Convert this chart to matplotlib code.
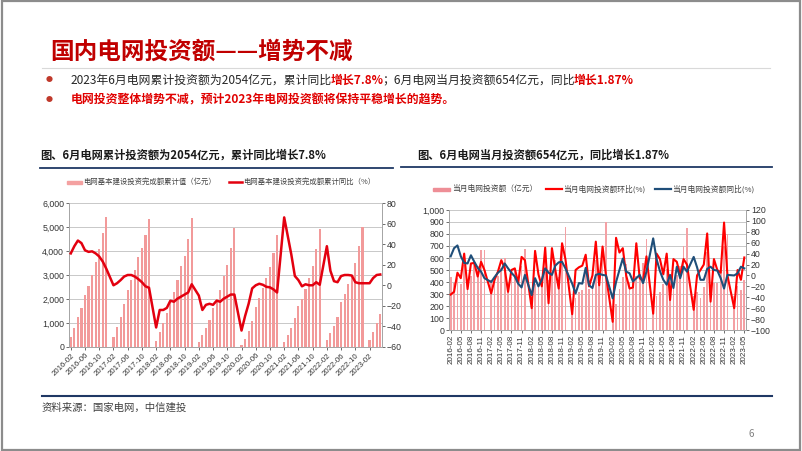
import numpy as np
import matplotlib
matplotlib.use("Agg")
import matplotlib.pyplot as plt
from matplotlib.patches import Rectangle, Ellipse
from matplotlib.lines import Line2D

plt.rcParams['font.family'] = ['Noto Sans CJK SC', 'DejaVu Sans']

W, H = 802, 451

# ---------------------------------------------------------
# data (None = January, no data)
# ---------------------------------------------------------
months = []
for yr in range(2016, 2024):
    for mo in range(1, 13):
        if (yr == 2016 and mo == 1) or (yr == 2023 and mo > 5):
            continue
        months.append(f"{yr}-{mo:02d}")

# cumulative investment (亿元)
cum_value = [
    420, 810, 1240, 1620, 2160, 2550, 3000, 3560, 4090, 4770, 5430,
    None, 420, 820, 1270, 1790, 2390, 2780, 3220, 3730, 4120, 4650, 5330,
    None, 250, 630, 1000, 1400, 1880, 2300, 2780, 3360, 3800, 4510, 5370,
    None, 210, 480, 800, 1130, 1640, 1980, 2370, 2950, 3400, 4110, 4970,
    None, 100, 320, 660, 1100, 1650, 2050, 2440, 2890, 3350, 3910, 4670,
    None, 210, 490, 810, 1190, 1700, 2000, 2400, 2860, 3390, 4090, 4930,
    None, 280, 600, 870, 1230, 1880, 2220, 2610, 3000, 3490, 4190, 5000,
    None, 280, 640, 980, 1380,
]
# cumulative yoy (%)
cum_yoy = [
    31, 38, 43.5, 41, 34, 32.5, 33, 31, 28, 23, 16,
    None, 0, 2, 5, 8.5, 10, 10, 8.5, 6, 3, -1, -2.4,
    None, -41, -24, -24, -22, -15, -16, -13, -11, -9, -7, 1,
    None, -10, -24, -19, -18, -19, -15, -16, -13, -11, -9, -9,
    None, -44, -30, -18, -3, 0, 1.5, 0.5, -1.5, -2, -4, -7,
    None, 66, 48, 30, 9, 5, -1, 1, 0, 0, 3, 0.5,
    None, 38, 14, 4, 3, 9, 10, 10, 9.5, 3, 2, 2,
    None, 2, 7, 10, 10.5,
]
# monthly investment (亿元)
month_value = [
    440, 390, 430, 380, 540, 390, 450, 560, 530, 670, 665,
    None, 420, 400, 450, 520, 600, 390, 440, 510, 390, 530, 675,
    None, 250, 380, 370, 400, 480, 420, 480, 580, 440, 710, 860,
    None, 210, 270, 320, 330, 510, 340, 390, 580, 450, 700, 900,
    None, 100, 220, 340, 440, 550, 400, 390, 450, 460, 560, 755,
    None, 210, 280, 320, 380, 510, 300, 400, 460, 530, 700, 850,
    None, 280, 320, 270, 360, 650, 340, 390, 390, 490, 700, 800,
    None, 280, 370, 330, 420,
]
# month-on-month (%)
month_mom = [
    -35, -30, 5, -5, 40, -25, 22, 23, -2, 25, 10,
    None, -33, -8, 7, 28, 13, -30, 10, 13, -14, 34, 28,
    None, -60, 45, 2, -20, 51, -51, 50, 10, -24, 59, 30,
    None, -71, 10, 15, 18, 38, -20, 0, 62, -18, 53, 1,
    None, -85, 69, 42, 50, 0, -24, -22, 59, -5, -10, 35,
    None, -70, 40, 30, 2, 40, -45, 30, 25, 0, 30, 20,
    None, -63, 0, 10, 20, 77, -48, 30, 10, 5, 97, 0,
    None, -60, 10, -8, 33,
]
# year-on-year (%)
month_yoy = [
    35, 50, 55, 35, 23, 22, 37, 25, 14, 7, -5,
    None, -12, -3, 5, 10, 22, 13, 5, -2, -15, -22, 1,
    None, -36, -5, -20, -8, 13, 5, 1, 18, 24, 25, 13,
    None, -15, -33, -14, -15, 14, -18, -23, 1, 3, 1, 0,
    None, -42, -12, 10, 31, 7, 4, -11, -5, 1, -14, 7,
    None, 68, 30, 8, -8, -17, 1, -23, 16, -5, 16, 7,
    None, 34, 15, -8, -8, 12, 16, 10, 9, -5, -24, 1,
    None, 0, 4, 16, 13,
]

legend_left = ['电网基本建设投资完成额累计值（亿元）', '电网基本建设投资完成额累计同比（%）']
legend_right = ['当月电网投资额（亿元）', '当月电网投资额环比(%)', '当月电网投资额同比(%)']


def arr(v):
    return np.array([np.nan if a is None else a for a in v], dtype=float)


def fx(px):
    return px / W


def fy(py):
    return 1 - py / H


NUM_FONT = ['Liberation Sans', 'Noto Sans CJK SC']
RED = '#C00000'
NAVY = '#1F3864'
GRID = '#BFBFBF'
SPINE = '#A6A6A6'

fig = plt.figure(figsize=(W / 100, H / 100), dpi=100)
fig.patch.set_facecolor('white')

# faint background swooshes
for cx, cy, w, h, lw, a in [(0.80, 1.30, 1.1, 0.55, 8, 0.25), (0.84, 1.26, 1.0, 0.45, 3, 0.3),
                             (0.75, -0.28, 1.3, 0.45, 12, 0.35), (0.85, -0.22, 1.0, 0.35, 5, 0.4)]:
    fig.patches.append(Ellipse((cx, cy), w, h, transform=fig.transFigure, fill=False,
                               edgecolor='#F2DDBB', lw=lw, alpha=a, zorder=0))
fig.patches.append(Rectangle((0.002, 0.003), 0.996, 0.994, transform=fig.transFigure,
                             fill=False, edgecolor='#8C8C8C', lw=1.6, zorder=5))

# ---------------------------------------------------------
# header text
# ---------------------------------------------------------
fig.text(fx(50), fy(52), '国内电网投资额——增势不减', fontsize=17, weight='bold',
         color=RED, va='center')
fig.add_artist(Line2D([fx(42), fx(770)], [fy(68), fy(68)], color='#D9D9D9', lw=0.8))

renderer = fig.canvas.get_renderer()


def rich_text(x, y, pieces, size):
    # lay pieces side by side, tightening the small padding of each box
    for s, color, weight in pieces:
        t = fig.text(x, y, s, color=color, weight=weight, fontsize=size, va='center')
        bb = t.get_window_extent(renderer=renderer)
        x += (bb.width - 1.5) / fig.bbox.width


fig.text(fx(49), fy(80), '●', color='#C0392B', fontsize=5, va='center', ha='center')
rich_text(fx(71), fy(80), [
    ('2023年6月电网累计投资额为2054亿元，累计同比', '#262626', 'normal'),
    ('增长7.8%', '#E00000', 'bold'),
    ('；6月电网当月投资额654亿元，同比', '#262626', 'normal'),
    ('增长1.87%', '#E00000', 'bold'),
], 8.55)
fig.text(fx(49), fy(100), '●', color='#C0392B', fontsize=5, va='center', ha='center')
rich_text(fx(71), fy(100), [
    ('电网投资整体增势不减，预计2023年电网投资额将保持平稳增长的趋势。', '#E00000', 'bold'),
], 8.55)

# chart titles and rules
fig.text(fx(40), fy(155), '图、6月电网累计投资额为2054亿元，累计同比增长7.8%', fontsize=8.1,
         weight='bold', color='#1A1A1A', va='center')
fig.text(fx(417), fy(155), '图、6月电网当月投资额654亿元，同比增长1.87%', fontsize=8.1,
         weight='bold', color='#1A1A1A', va='center')
fig.add_artist(Line2D([fx(40), fx(393)], [fy(168), fy(168)], color=NAVY, lw=1.3))
fig.add_artist(Line2D([fx(401), fx(772)], [fy(167), fy(167)], color=NAVY, lw=1.3))

# legends
fig.add_artist(Rectangle((fx(67), fy(183.5)), fx(82) - fx(67), 3 / H, transform=fig.transFigure,
                         color='#F4A1A1'))
fig.text(fx(83), fy(182), legend_left[0], fontsize=5.3, color='#404040', va='center')
fig.add_artist(Line2D([fx(229), fx(242)], [fy(182), fy(182)], color='#E3000F', lw=1.8))
fig.text(fx(243), fy(182), legend_left[1], fontsize=5.3, color='#404040', va='center')

fig.add_artist(Rectangle((fx(433), fy(190.5)), fx(450) - fx(433), 3 / H, transform=fig.transFigure,
                         color='#EE8E96'))
fig.text(fx(452), fy(189), legend_right[0], fontsize=5.6, color='#404040', va='center')
fig.add_artist(Line2D([fx(546), fx(562)], [fy(189), fy(189)], color='#FF0000', lw=1.6))
fig.text(fx(563), fy(189), legend_right[1], fontsize=5.6, color='#404040', va='center')
fig.add_artist(Line2D([fx(655), fx(671)], [fy(189), fy(189)], color='#1F4E79', lw=1.6))
fig.text(fx(672), fy(189), legend_right[2], fontsize=5.6, color='#404040', va='center')


def style_axes(ax, axr):
    for a in (ax, axr):
        a.spines['top'].set_visible(False)
        for s in ('left', 'right', 'bottom'):
            a.spines[s].set_color(SPINE)
            a.spines[s].set_linewidth(0.7)
        a.tick_params(axis='both', labelsize=6.3, colors='#333333', length=2, width=0.5,
                      pad=1.5)
        for lab in a.get_yticklabels() + a.get_xticklabels():
            lab.set_fontfamily(NUM_FONT)
    ax.yaxis.grid(True, color=GRID, lw=0.6)
    ax.set_axisbelow(True)
    ax.set_facecolor('none')


x = np.arange(len(months))

# ---------------------------------------------------------
# left chart: cumulative
# ---------------------------------------------------------
cv = arr(cum_value)
cy_ = arr(cum_yoy)
ax1 = fig.add_axes([fx(69), fy(347), fx(382) - fx(69), fy(203) - fy(347)])
ok = ~np.isnan(cv)
ax1.bar(x[ok], cv[ok], width=0.6, color='#F29A9A', lw=0, zorder=2)
ax1.set_xlim(-0.5, len(months) - 0.5)
ax1.set_ylim(0, 6000)
ax1.set_yticks(range(0, 6001, 1000))
ax1.set_yticklabels([f"{v:,}" for v in range(0, 6001, 1000)])
ax1.set_xticks(x[::4])
ax1.set_xticklabels(months[::4], rotation=45, ha='right', rotation_mode='anchor')
ax1r = ax1.twinx()
ok = ~np.isnan(cy_)
ax1r.plot(x[ok], cy_[ok], color='#E3000F', lw=1.8, solid_joinstyle='round', zorder=3)
ax1r.set_ylim(-60, 80)
ax1r.set_yticks(range(-60, 81, 20))
style_axes(ax1, ax1r)
ax1.tick_params(axis='x', labelsize=5.6)

# ---------------------------------------------------------
# right chart: monthly
# ---------------------------------------------------------
mv = arr(month_value)
mm = arr(month_mom)
my = arr(month_yoy)
ax2 = fig.add_axes([fx(449), fy(330), fx(746) - fx(449), fy(210) - fy(330)])
ok = ~np.isnan(mv)
ax2.bar(x[ok], mv[ok], width=0.55, color='#F4A0A4', lw=0, zorder=2)
ax2.set_xlim(-0.5, len(months) - 0.5)
ax2.set_ylim(0, 1000)
ax2.set_yticks(range(0, 1001, 100))
ax2.set_yticklabels([f"{v:,}" for v in range(0, 1001, 100)])
ax2.set_xticks(x[::3])
ax2.set_xticklabels(months[::3], rotation=90)
ax2r = ax2.twinx()
ok = ~np.isnan(mm)
ax2r.plot(x[ok], mm[ok], color='#FF0000', lw=1.5, solid_joinstyle='round', zorder=3)
ok = ~np.isnan(my)
ax2r.plot(x[ok], my[ok], color='#1F4E79', lw=1.5, solid_joinstyle='round', zorder=4)
ax2r.set_ylim(-100, 120)
ax2r.set_yticks(range(-100, 121, 20))
style_axes(ax2, ax2r)
ax2.tick_params(axis='x', labelsize=5.8)

# ---------------------------------------------------------
# footer
# ---------------------------------------------------------
fig.add_artist(Line2D([fx(42), fx(772)], [fy(396), fy(396)], color=NAVY, lw=1.5))
fig.text(fx(42), fy(408), '资料来源：国家电网，中信建投', fontsize=7.5, style='italic',
         color='#404040', va='center')
fig.text(fx(751), fy(434), '6', fontsize=7, color='#808080', va='center', ha='center')

fig.savefig('out.png', dpi=100)
